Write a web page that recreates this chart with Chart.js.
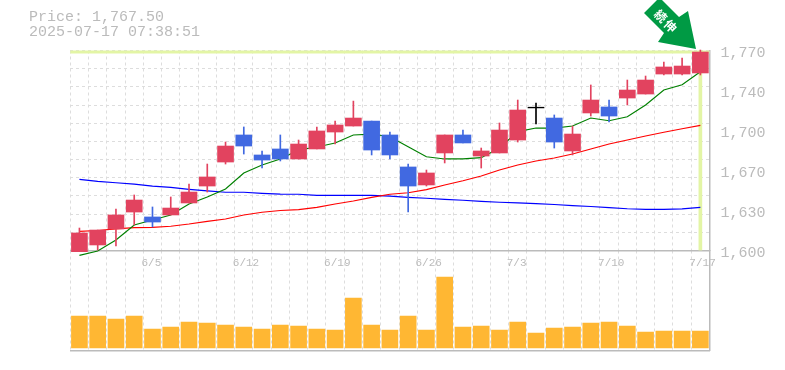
<!DOCTYPE html>
<html>
<head>
<meta charset="utf-8">
<script src="https://cdn.jsdelivr.net/npm/chart.js@4"></script>
<style>
  html, body { margin: 0; padding: 0; background: #fff; }
  #wrap { position: relative; width: 785px; height: 370px; overflow: hidden; }
  canvas { position: absolute; left: 0; top: 0; }
  #info { position: absolute; left: 29px; top: 10px; font: 15px/15px "Liberation Mono", monospace; color: #bbb; white-space: pre; }
  #mark { position: absolute; left: 0; top: 0; }
</style>
</head>
<body>
<div id="wrap">
  <canvas id="volumeChart" width="785" height="370"></canvas>
  <canvas id="priceChart" width="785" height="370"></canvas>
  <div id="info">Price: 1,767.50
2025-07-17 07:38:51</div>
  <svg id="mark" width="785" height="370">
    <polygon points="657,0 644,13 664,33 658,42 696,49 688,11 679,17 662,0" fill="#009a44"/>
    <text x="667" y="21" transform="rotate(45 667 21)" text-anchor="middle" dominant-baseline="central"
          font-family="Noto Sans CJK JP" font-weight="700" font-size="12" letter-spacing="2" fill="#fff">続伸</text>
  </svg>
</div>
<script>
const dates = ['5/30','6/2','6/3','6/4','6/5','6/6','6/9','6/10','6/11','6/12','6/13','6/16','6/17','6/18','6/19','6/20','6/23','6/24','6/25','6/26','6/27','6/30','7/1','7/2','7/3','7/4','7/7','7/8','7/9','7/10','7/11','7/14','7/15','7/16','7/17'];

const opens = [1599,1604.7,1618.3,1632.7,1628.5,1630.2,1640.4,1654.8,1675.2,1698.2,1681.2,1686.3,1677.8,1686.3,1700.7,1705.8,1710,1698.2,1671,1655.7,1682.9,1698.2,1680.3,1682.9,1693.9,1721.2,1712.6,1684.6,1716.9,1722,1729.6,1733,1750,1750,1750.9];
const closes = [1614.9,1617.4,1630.2,1642.9,1624.2,1636.1,1649.7,1662.5,1688.8,1688.8,1676.9,1677.8,1690.5,1701.6,1706.7,1712.6,1685.4,1681.2,1654.8,1665.9,1698.2,1691.4,1684.6,1702.4,1719.4,1721.8,1692.2,1699,1727.9,1714.3,1736.4,1744.9,1756,1756.8,1768.7];
const highs = [1619.1,1617.4,1635.3,1647.2,1637,1645.5,1656.5,1673.5,1692.2,1705,1684.6,1698.2,1693.9,1705,1710,1727,1710,1700.7,1673.5,1668.4,1698.2,1702.4,1687.1,1708.4,1727.9,1725.4,1715.2,1705.8,1740.7,1727.9,1744.9,1748.3,1760.2,1763.6,1770.4];
const lows = [1599,1600.4,1603.8,1621.7,1620,1630.2,1640.4,1649.7,1673.5,1682,1670.1,1676.1,1677.8,1686.3,1690.5,1705.8,1681.2,1677.8,1632.7,1654.8,1674.4,1691.4,1670.1,1682.9,1692.2,1707.5,1687.1,1681.2,1714.3,1709.2,1723.7,1733,1749.2,1749.2,1749.2];

const maShort = [1595.9,1599.6,1608.9,1621.7,1625.9,1630.2,1639.5,1645.5,1652.3,1665.9,1672.7,1677.8,1685.4,1688,1691.4,1698.2,1699,1696.7,1688.2,1679.7,1677.8,1677.8,1678.9,1687.1,1701,1704.1,1704.1,1705.8,1712.6,1710.3,1713.7,1723.7,1736.4,1740.9,1752];
const maMid = [1616.3,1617,1618.3,1619.5,1619.7,1620.6,1622.5,1624.8,1626.8,1630.2,1632.5,1634,1634.8,1636.7,1639.5,1642.1,1645.2,1647.8,1649.1,1651.7,1655.7,1659.3,1663.3,1668.4,1672.7,1676.1,1678.6,1682,1686.3,1690.5,1693.9,1697.3,1700.5,1703.5,1706.4];
const maLong = [1660.5,1658.8,1657.6,1656.5,1654.8,1653.7,1652,1650.6,1649.5,1649.5,1648.6,1648,1647.8,1646.9,1646.9,1646.9,1646.9,1646.3,1645.2,1644.4,1643.5,1642.7,1641.8,1641,1640.4,1639.9,1639.1,1638.2,1637.4,1636.4,1635.5,1635,1635,1635.4,1636.7];

const volumes = [3200,3200,2900,3200,1900,2100,2600,2500,2300,2100,1900,2300,2200,1900,1800,5000,2300,1800,3200,1800,7100,2100,2200,1800,2600,1500,2000,2100,2500,2600,2200,1600,1700,1700,1700];

const yTickLabels = ['1,600','1,630','1,670','1,700','1,740','1,770'];

const gray = '#bbb';
const gridGray = '#ddd';
const upColor = '#e2435f';
const downColor = '#4169e1';
const markColor = '#e3f5a5';
const lastClose = closes[closes.length - 1];

function candleColor(i) {
    const diff = closes[i] - opens[i];
    if (Math.abs(diff) < 1) return '#000';
    return diff > 0 ? upColor : downColor;
}
const colors = dates.map((d, i) => candleColor(i));

// light green line at the last price, across the whole panel
const lastPriceLine = {
    id: 'lastPriceLine',
    beforeDatasetsDraw(chart) {
        const ctx = chart.ctx;
        const y = chart.scales.y.getPixelForValue(lastClose);
        ctx.save();
        ctx.strokeStyle = markColor;
        ctx.lineWidth = 3;
        ctx.beginPath();
        ctx.moveTo(chart.chartArea.left, y);
        ctx.lineTo(chart.chartArea.right, y);
        ctx.stroke();
        ctx.restore();
    }
};

function maDataset(data, color, order) {
    return {
        type: 'line', data: data, borderColor: color, borderWidth: 1.2,
        pointRadius: 0, tension: 0, clip: false, order: order
    };
}

new Chart(document.getElementById('priceChart'), {
    type: 'bar',
    plugins: [lastPriceLine],
    data: {
        labels: dates,
        datasets: [
            {
                data: closes.map((c, i) => [opens[i], c]), backgroundColor: colors,
                barThickness: 16, grouped: false, clip: false, order: 1
            },
            {
                data: highs.map((h, i) => [lows[i], h]), backgroundColor: colors,
                barThickness: 1, grouped: false, clip: false, order: 2
            },
            maDataset(maShort, '#008000', 3),
            maDataset(maMid, '#ff0000', 4),
            maDataset(maLong, '#0000ff', 5),
            {
                data: dates.map((d, i) => i === dates.length - 1 ? [1600, 1770] : null),
                backgroundColor: markColor, barThickness: 3, grouped: false, order: 6
            }
        ]
    },
    options: {
        responsive: false,
        animation: false,
        layout: { padding: { left: 70.3, top: 50.5, right: 0, bottom: 0 } },
        plugins: { legend: { display: false }, tooltip: { enabled: false } },
        scales: {
            x: {
                offset: true,
                grid: { color: gridGray, offset: true, drawTicks: false },
                border: { color: gray, width: 1.5, dash: [3, 3] },
                ticks: {
                    autoSkip: false, maxRotation: 0, align: 'start', labelOffset: -11, padding: 6,
                    color: gray, font: { family: 'Liberation Mono', size: 11 },
                    callback: (v, i) => i % 5 === 4 ? dates[i] : ''
                },
                afterFit: s => { s.height = 119.5; }
            },
            y: {
                position: 'right', min: 1600, max: 1770,
                grid: { display: false, drawTicks: false },
                border: { color: gray, width: 1.5 },
                ticks: {
                    stepSize: 34, padding: 11, labelOffset: 2.5,
                    color: gray, font: { family: 'Liberation Mono', size: 15 },
                    callback: (v, i) => yTickLabels[i]
                },
                afterFit: s => { s.width = 75.5; }
            },
            yGrid: {
                position: 'left', min: 0, max: 11,
                grid: { color: gridGray, drawTicks: false },
                border: { display: false, dash: [3, 3] },
                ticks: { stepSize: 1, display: false },
                afterFit: s => { s.width = 0; }
            }
        }
    }
});

new Chart(document.getElementById('volumeChart'), {
    type: 'bar',
    data: {
        labels: dates,
        datasets: [{ data: volumes, backgroundColor: '#ffb733', barThickness: 16 }]
    },
    options: {
        responsive: false,
        animation: false,
        layout: { padding: { left: 70.3, top: 250.5, right: 0, bottom: 0 } },
        plugins: { legend: { display: false }, tooltip: { enabled: false } },
        scales: {
            x: {
                offset: true,
                grid: { color: gridGray, offset: true, drawTicks: false },
                border: { color: gray, width: 1.5, dash: [3, 3] },
                ticks: { display: false },
                afterFit: s => { s.height = 19.5; }
            },
            y: {
                position: 'right', min: -250, max: 9750,
                grid: { display: false, drawTicks: false },
                border: { color: gray, width: 1.5 },
                ticks: { display: false },
                afterFit: s => { s.width = 75.5; }
            }
        }
    }
});
</script>
</body>
</html>
